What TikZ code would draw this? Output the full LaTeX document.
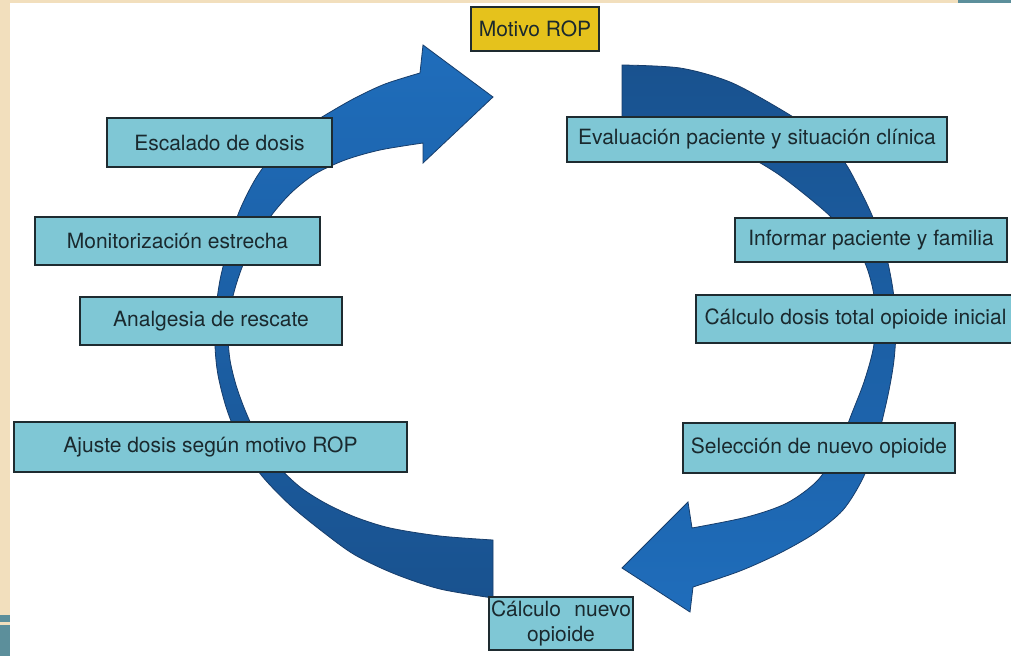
\documentclass[tikz,border=0pt]{standalone}
\usepackage{fontspec}
\setmainfont{TeX Gyre Heros}
\definecolor{beige}{HTML}{F2DFBD}
\definecolor{teal}{HTML}{5C8F9B}
\definecolor{boxfill}{HTML}{7FC7D5}
\definecolor{boxline}{HTML}{1E2B30}
\definecolor{txt}{HTML}{1A292E}
\definecolor{ropfill}{HTML}{E5C21C}
\definecolor{bluedark}{HTML}{19528F}
\definecolor{bluebright}{HTML}{1F6DBB}
\definecolor{arrowline}{HTML}{173D6B}
\begin{document}
\begin{tikzpicture}[x=1pt,y=-1pt,
  box/.style={draw=boxline, line width=1.6pt, fill=boxfill, text=txt,
    font=\fontsize{21}{25}\selectfont, inner sep=0pt, align=center},
  bigarrow/.style={draw=arrowline, line width=0.8pt, line join=miter}]
\useasboundingbox (0,0) rectangle (1011,656);
\clip (0,0) rectangle (1011,656);
% background
\fill[white] (0,0) rectangle (1011,656);
\fill[beige] (0,0) rectangle (10,656);
\fill[beige] (0,0) rectangle (958,3);
\fill[teal] (958,0) rectangle (1011,3);
\fill[teal] (0,615) rectangle (10,656);
\fill[beige] (0,622) rectangle (10,625);
% left curved arrow
\path[bigarrow, top color=bluebright, bottom color=bluedark]
  (493,598) -- plot[smooth,tension=0.5] coordinates {(493,598) (440,589) (395,574) (355,555) (323,532) (290,505) (262,476) (242,446) (227,410) (218,375) (215,345) (216,310) (220,280) (228,248) (239,212) (256,178) (277,150) (300,131) (327,114) (355,98) (385,84) (420,73)}
  -- (423,45) -- (493,97) -- (423,163) -- (423,143)
  -- plot[smooth,tension=0.5] coordinates {(423,143) (380,150) (345,160) (315,174) (292,192) (274,212) (258,235) (245,260) (236,285) (230,310) (228,335) (230,360) (236,385) (245,410) (258,438) (277,465) (300,487) (325,503) (355,517) (390,528) (440,536) (493,540)}
  -- cycle;
% right curved arrow
\path[bigarrow, top color=bluedark, bottom color=bluebright]
  (622,65) -- plot[smooth,tension=0.5] coordinates {(622,65) (680,68) (730,82) (780,109) (815,132) (843,160) (860,190) (874,220) (886,255) (893,290) (896,325) (894,360) (888,395) (877,440) (863,478) (843,510) (815,533) (780,553) (740,571) (693,587)}
  -- (690,612) -- (622,568) -- (688,502) -- (692,528)
  -- plot[smooth,tension=0.5] coordinates {(692,528) (747,517) (787,503) (818,480) (838,448) (852,413) (864,382) (873,350) (876,320) (873,290) (865,263) (850,239) (830,216) (803,193) (775,172) (740,152) (700,137) (622,123)}
  -- cycle;
% boxes
\node[box, fill=ropfill, minimum width=128pt, minimum height=44pt] (rop) at (535,29) {Motivo ROP};
\node[box, minimum width=225pt, minimum height=49pt] (esc) at (219.5,142.5) {Escalado de dosis};
\node[box, minimum width=285pt, minimum height=48pt] (mon) at (177.5,241) {Monitorización estrecha};
\node[box, minimum width=262pt, minimum height=48pt] (ana) at (211,321) {Analgesia de rescate};
\node[box, minimum width=393pt, minimum height=50pt] (aju) at (210.5,447) {Ajuste dosis según motivo ROP};
\node[box, minimum width=380pt, minimum height=45pt] (eva) at (757,139.5) {Evaluación paciente y situación clínica};
\node[box, minimum width=272pt, minimum height=44pt] (inf) at (871,240) {Informar paciente y familia};
\node[box, minimum width=319pt, minimum height=48pt] (cal) at (855.5,319) {Cálculo dosis total opioide inicial};
\node[box, minimum width=272pt, minimum height=50pt] (sel) at (819,448) {Selección de nuevo opioide};
\node[box, minimum width=144pt, minimum height=53pt] (cnu) at (561,623.5) {\hbox to 140pt{Cálculo\hfill nuevo}\\opioide};
\end{tikzpicture}
\end{document}
